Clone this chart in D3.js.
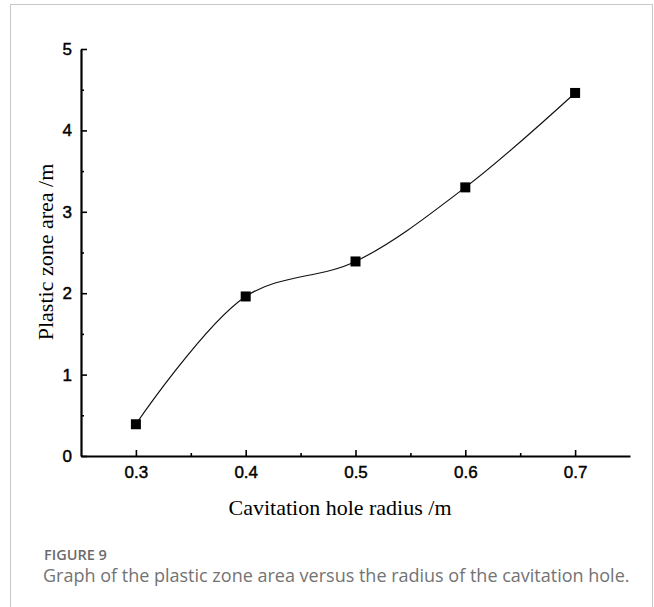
<!DOCTYPE html>
<html>
  <head>
    <meta charset="utf-8">
    <title></title>
  </head>
  <style>
  body{
      margin: 0;
      background-color: #fff;
    }
    .card{
      position: absolute;
      left: 10px; top: 4px;
      width: 643px; height: 620px;
      border: 1px solid #c8c8c8;
      box-sizing: border-box;
    }
    .fig{
      position: absolute;
      left: 44px; top: 547px;
      line-height: 16px;
      font-family: "Open Sans";
      font-size: 14.5px;
      font-weight: 600;
      color: #6b6b6b;
    }
    .caption{
      position: absolute;
      left: 43px; top: 565px;
      line-height: 20px;
      font-family: "Open Sans";
      font-size: 18px;
      color: #737373;
      white-space: nowrap;
    }
    .tick text{
      font-family: "Liberation Sans";
      font-size: 17px;
      stroke: #000;
      stroke-width: 0.45px;
    }
  </style>
  <script src="https://d3js.org/d3.v7.min.js"></script>
  <body>
    <div class="card"></div>
    <div class="fig">FIGURE 9</div>
    <div class="caption">Graph of the plastic zone area versus the radius of the cavitation hole.</div>
    <script>
    const radius = [0.3, 0.4, 0.5, 0.6, 0.7]
    const area = [0.39, 1.96, 2.39, 3.30, 4.46]
    const xTicks = [0.3, 0.4, 0.5, 0.6, 0.7]
    const xMinor = [0.35, 0.45, 0.55, 0.65]
    const yTicks = [0, 1, 2, 3, 4, 5]
    const yMinor = [0.5, 1.5, 2.5, 3.5, 4.5]

    var svg = d3.select("body")
                .append("svg")
                .attr("width", 654)
                .attr("height", 607)
                .style("position", "absolute")
                .style("left", 0)
                .style("top", 0)

    // scales
    let xScale = d3.scaleLinear().domain([0.25, 0.75]).range([81, 630])
    let yScale = d3.scaleLinear().domain([0, 5]).range([456, 49])

    // y axis, ticks pointing inward
    svg.append("g")
      .attr("transform", "translate(81,0)")
      .call(d3.axisLeft(yScale).tickValues(yTicks).tickSize(-6).tickSizeOuter(0).tickPadding(9).tickFormat(d3.format("d")))
    svg.append("g")
      .attr("transform", "translate(81,0)")
      .call(d3.axisLeft(yScale).tickValues(yMinor).tickSize(-3).tickSizeOuter(0).tickFormat(""))
      .select(".domain").remove()

    // x axis, ticks pointing inward
    svg.append("g")
      .attr("transform", "translate(0,456)")
      .call(d3.axisBottom(xScale).tickValues(xTicks).tickSize(-6).tickSizeOuter(0).tickPadding(10).tickFormat(d3.format(".1f")))
    svg.append("g")
      .attr("transform", "translate(0,456)")
      .call(d3.axisBottom(xScale).tickValues(xMinor).tickSize(-3).tickSizeOuter(0).tickFormat(""))
      .select(".domain").remove()

    svg.selectAll(".domain").attr("stroke", "#000").attr("stroke-width", 2.2)
    svg.selectAll(".tick line").attr("stroke", "#000").attr("stroke-width", 1.6)
    svg.selectAll(".tick text").attr("fill", "#000")

    // axis titles
    svg.append("text")
      .attr("x", 340).attr("y", 515)
      .attr("text-anchor", "middle")
      .attr("font-family", "Liberation Serif")
      .attr("font-size", "22px")
      .text("Cavitation hole radius /m")

    svg.append("text")
      .attr("transform", "translate(53,252) rotate(-90)")
      .attr("text-anchor", "middle")
      .attr("font-family", "Liberation Serif")
      .attr("font-size", "22px")
      .text("Plastic zone area /m")

    // curve
    let pts = radius.map(function(r, i){ return [r, area[i]] })
    let line = d3.line()
      .x(function(d){ return xScale(d[0]) })
      .y(function(d){ return yScale(d[1]) })
      .curve(d3.curveCatmullRom.alpha(0.5))

    svg.append("path")
      .datum(pts)
      .attr("d", line)
      .attr("fill", "none")
      .attr("stroke", "#111")
      .attr("stroke-width", 1.2)

    svg.append("g").selectAll("rect")
      .data(pts)
      .enter()
      .append("rect")
      .attr("x", function(d){ return xScale(d[0]) - 5 })
      .attr("y", function(d){ return yScale(d[1]) - 5 })
      .attr("width", 10)
      .attr("height", 10)
      .attr("fill", "#000")
    </script>
  </body>
</html>
